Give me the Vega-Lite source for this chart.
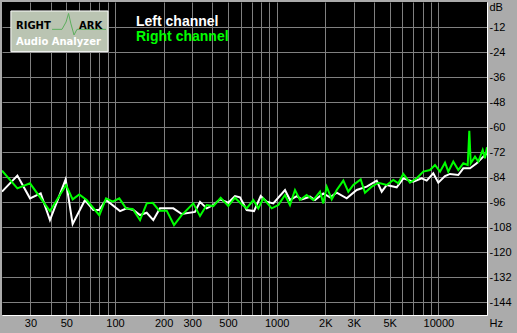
{
  "$schema": "https://vega.github.io/schema/vega-lite/v6.json",
  "width": 485,
  "height": 313,
  "autosize": {"type": "none"},
  "padding": {"left": 2, "top": 2, "right": 30, "bottom": 18},
  "background": "#ABABAB",
  "config": {
    "view": {"fill": "#000000", "stroke": null},
    "font": "Liberation Sans",
    "axis": {"labelOverlap": false, "labelFlush": false}
  },
  "datasets": {
    "spectrum": [
      {"f": 20, "db": -90.9, "ch": "Left channel"},
      {"f": 24.9, "db": -83.2, "ch": "Left channel"},
      {"f": 29.8, "db": -94.1, "ch": "Left channel"},
      {"f": 34.7, "db": -91.7, "ch": "Left channel"},
      {"f": 39.6, "db": -104.5, "ch": "Left channel"},
      {"f": 49.5, "db": -85.0, "ch": "Left channel"},
      {"f": 54.7, "db": -106.4, "ch": "Left channel"},
      {"f": 65.2, "db": -94.9, "ch": "Left channel"},
      {"f": 73.4, "db": -99.7, "ch": "Left channel"},
      {"f": 79.6, "db": -99.7, "ch": "Left channel"},
      {"f": 88.0, "db": -94.9, "ch": "Left channel"},
      {"f": 107.4, "db": -100.2, "ch": "Left channel"},
      {"f": 118.1, "db": -98.9, "ch": "Left channel"},
      {"f": 129.8, "db": -99.7, "ch": "Left channel"},
      {"f": 142.8, "db": -102.1, "ch": "Left channel"},
      {"f": 157.1, "db": -101.0, "ch": "Left channel"},
      {"f": 172.6, "db": -104.5, "ch": "Left channel"},
      {"f": 189.8, "db": -98.9, "ch": "Left channel"},
      {"f": 229.4, "db": -98.9, "ch": "Left channel"},
      {"f": 258.6, "db": -101.6, "ch": "Left channel"},
      {"f": 312.4, "db": -100.6, "ch": "Left channel"},
      {"f": 335.6, "db": -95.8, "ch": "Left channel"},
      {"f": 369.2, "db": -98.9, "ch": "Left channel"},
      {"f": 405.6, "db": -97.3, "ch": "Left channel"},
      {"f": 446.2, "db": -94.6, "ch": "Left channel"},
      {"f": 502.2, "db": -96.2, "ch": "Left channel"},
      {"f": 552.4, "db": -93.0, "ch": "Left channel"},
      {"f": 593.2, "db": -93.6, "ch": "Left channel"},
      {"f": 652.6, "db": -99.7, "ch": "Left channel"},
      {"f": 724.2, "db": -100.2, "ch": "Left channel"},
      {"f": 796.6, "db": -93.0, "ch": "Left channel"},
      {"f": 867.8, "db": -95.7, "ch": "Left channel"},
      {"f": 953.0, "db": -96.5, "ch": "Left channel"},
      {"f": 1126, "db": -90.1, "ch": "Left channel"},
      {"f": 1209, "db": -94.9, "ch": "Left channel"},
      {"f": 1330, "db": -93.0, "ch": "Left channel"},
      {"f": 1428, "db": -94.6, "ch": "Left channel"},
      {"f": 1608, "db": -93.3, "ch": "Left channel"},
      {"f": 1726, "db": -94.9, "ch": "Left channel"},
      {"f": 1943, "db": -91.7, "ch": "Left channel"},
      {"f": 2138, "db": -93.6, "ch": "Left channel"},
      {"f": 2352, "db": -91.4, "ch": "Left channel"},
      {"f": 2712, "db": -94.1, "ch": "Left channel"},
      {"f": 3126, "db": -90.1, "ch": "Left channel"},
      {"f": 3606, "db": -88.5, "ch": "Left channel"},
      {"f": 4156, "db": -85.6, "ch": "Left channel"},
      {"f": 4464, "db": -90.9, "ch": "Left channel"},
      {"f": 4794, "db": -87.7, "ch": "Left channel"},
      {"f": 5526, "db": -88.8, "ch": "Left channel"},
      {"f": 6070, "db": -84.5, "ch": "Left channel"},
      {"f": 6998, "db": -86.1, "ch": "Left channel"},
      {"f": 7890, "db": -84.5, "ch": "Left channel"},
      {"f": 8472, "db": -85.6, "ch": "Left channel"},
      {"f": 9308, "db": -82.1, "ch": "Left channel"},
      {"f": 9994, "db": -86.6, "ch": "Left channel"},
      {"f": 10996, "db": -83.4, "ch": "Left channel"},
      {"f": 11806, "db": -82.4, "ch": "Left channel"},
      {"f": 13288, "db": -82.9, "ch": "Left channel"},
      {"f": 14270, "db": -79.7, "ch": "Left channel"},
      {"f": 15696, "db": -79.7, "ch": "Left channel"},
      {"f": 17270, "db": -77.3, "ch": "Left channel"},
      {"f": 18974, "db": -74.1, "ch": "Left channel"},
      {"f": 20000, "db": -72.5, "ch": "Left channel"},
      {"f": 20, "db": -80.8, "ch": "Right channel"},
      {"f": 24.9, "db": -89.3, "ch": "Right channel"},
      {"f": 29.8, "db": -86.9, "ch": "Right channel"},
      {"f": 39.6, "db": -100.2, "ch": "Right channel"},
      {"f": 49.8, "db": -87.7, "ch": "Right channel"},
      {"f": 54.7, "db": -94.6, "ch": "Right channel"},
      {"f": 60.1, "db": -92.2, "ch": "Right channel"},
      {"f": 66.8, "db": -94.9, "ch": "Right channel"},
      {"f": 80.0, "db": -102.2, "ch": "Right channel"},
      {"f": 88.0, "db": -94.1, "ch": "Right channel"},
      {"f": 96.8, "db": -95.7, "ch": "Right channel"},
      {"f": 106.3, "db": -94.1, "ch": "Right channel"},
      {"f": 117.0, "db": -98.9, "ch": "Right channel"},
      {"f": 128.7, "db": -99.2, "ch": "Right channel"},
      {"f": 142.8, "db": -104.5, "ch": "Right channel"},
      {"f": 157.1, "db": -96.5, "ch": "Right channel"},
      {"f": 171.1, "db": -96.2, "ch": "Right channel"},
      {"f": 187.9, "db": -100.0, "ch": "Right channel"},
      {"f": 208.8, "db": -100.0, "ch": "Right channel"},
      {"f": 231.8, "db": -106.9, "ch": "Right channel"},
      {"f": 258.6, "db": -102.1, "ch": "Right channel"},
      {"f": 305.0, "db": -96.5, "ch": "Right channel"},
      {"f": 335.6, "db": -102.6, "ch": "Right channel"},
      {"f": 369.2, "db": -97.3, "ch": "Right channel"},
      {"f": 405.6, "db": -97.8, "ch": "Right channel"},
      {"f": 450.6, "db": -93.8, "ch": "Right channel"},
      {"f": 502.2, "db": -97.8, "ch": "Right channel"},
      {"f": 552.4, "db": -93.8, "ch": "Right channel"},
      {"f": 607.6, "db": -96.9, "ch": "Right channel"},
      {"f": 652.6, "db": -98.9, "ch": "Right channel"},
      {"f": 717.0, "db": -94.9, "ch": "Right channel"},
      {"f": 769.8, "db": -98.9, "ch": "Right channel"},
      {"f": 826.6, "db": -94.1, "ch": "Right channel"},
      {"f": 931.6, "db": -98.9, "ch": "Right channel"},
      {"f": 1024, "db": -97.3, "ch": "Right channel"},
      {"f": 1126, "db": -92.5, "ch": "Right channel"},
      {"f": 1209, "db": -97.3, "ch": "Right channel"},
      {"f": 1298, "db": -90.1, "ch": "Right channel"},
      {"f": 1394, "db": -94.9, "ch": "Right channel"},
      {"f": 1533, "db": -92.5, "ch": "Right channel"},
      {"f": 1685, "db": -94.9, "ch": "Right channel"},
      {"f": 1854, "db": -90.9, "ch": "Right channel"},
      {"f": 1943, "db": -96.5, "ch": "Right channel"},
      {"f": 2039, "db": -88.5, "ch": "Right channel"},
      {"f": 2190, "db": -94.6, "ch": "Right channel"},
      {"f": 2352, "db": -90.1, "ch": "Right channel"},
      {"f": 2584, "db": -85.6, "ch": "Right channel"},
      {"f": 2774, "db": -90.9, "ch": "Right channel"},
      {"f": 2978, "db": -87.7, "ch": "Right channel"},
      {"f": 3310, "db": -85.0, "ch": "Right channel"},
      {"f": 3518, "db": -91.4, "ch": "Right channel"},
      {"f": 3872, "db": -88.5, "ch": "Right channel"},
      {"f": 4252, "db": -86.6, "ch": "Right channel"},
      {"f": 4794, "db": -87.7, "ch": "Right channel"},
      {"f": 5266, "db": -85.3, "ch": "Right channel"},
      {"f": 5654, "db": -86.9, "ch": "Right channel"},
      {"f": 6070, "db": -82.4, "ch": "Right channel"},
      {"f": 6678, "db": -86.6, "ch": "Right channel"},
      {"f": 7348, "db": -84.5, "ch": "Right channel"},
      {"f": 8070, "db": -81.3, "ch": "Right channel"},
      {"f": 8880, "db": -80.5, "ch": "Right channel"},
      {"f": 9536, "db": -78.1, "ch": "Right channel"},
      {"f": 10240, "db": -81.3, "ch": "Right channel"},
      {"f": 10996, "db": -77.0, "ch": "Right channel"},
      {"f": 11522, "db": -81.3, "ch": "Right channel"},
      {"f": 12372, "db": -76.5, "ch": "Right channel"},
      {"f": 13288, "db": -80.5, "ch": "Right channel"},
      {"f": 14270, "db": -77.3, "ch": "Right channel"},
      {"f": 15196, "db": -78.1, "ch": "Right channel"},
      {"f": 15546, "db": -61.7, "ch": "Right channel"},
      {"f": 15860, "db": -77.3, "ch": "Right channel"},
      {"f": 16856, "db": -74.1, "ch": "Right channel"},
      {"f": 17668, "db": -76.5, "ch": "Right channel"},
      {"f": 18812, "db": -70.9, "ch": "Right channel"},
      {"f": 19438, "db": -74.9, "ch": "Right channel"},
      {"f": 20000, "db": -69.6, "ch": "Right channel"}
    ],
    "wave": [
      {"f": 40.8, "db": -13.1},
      {"f": 47.0, "db": -13.1},
      {"f": 49.8, "db": -9.6},
      {"f": 51.6, "db": -5.5},
      {"f": 53.4, "db": -10.5},
      {"f": 55.8, "db": -15.8},
      {"f": 58.2, "db": -13.1},
      {"f": 88.0, "db": -13.1}
    ]
  },
  "layer": [
    {
      "data": {"name": "spectrum"},
      "mark": {"type": "line", "strokeWidth": 2, "clip": true},
      "encoding": {
        "x": {
          "field": "f", "type": "quantitative",
          "scale": {"type": "log", "domain": [20, 20000], "nice": false},
          "axis": {
            "values": [30, 40, 50, 60, 70, 80, 90, 100, 200, 300, 400, 500, 600, 700, 800, 900, 1000, 2000, 3000, 4000, 5000, 6000, 7000, 8000, 9000, 10000],
            "tickCount": 40,
            "grid": true, "gridColor": "#808080", "gridWidth": 1,
            "ticks": false, "domain": true, "domainColor": "#ffffff", "domainWidth": 1,
            "labelExpr": "datum.value == 2000 ? '2K' : datum.value == 3000 ? '3K' : datum.value == 5000 ? '5K' : indexof([30,50,100,200,300,500,1000,10000], datum.value) >= 0 ? '' + datum.value : ''",
            "labelFont": "Liberation Sans", "labelFontSize": 11, "labelColor": "#000000",
            "labelPadding": 2, "labelOverlap": false, "labelFlush": false,
            "title": "Hz", "titleX": 487, "titleY": 11, "titleAlign": "left", "titleBaseline": "alphabetic",
            "titleFont": "Liberation Sans", "titleFontSize": 11, "titleFontWeight": "normal", "titleColor": "#000000"
          }
        },
        "y": {
          "field": "db", "type": "quantitative",
          "scale": {"domain": [-150, 0], "nice": false, "zero": false},
          "axis": {
            "orient": "right",
            "values": [-144, -132, -120, -108, -96, -84, -72, -60, -48, -36, -24, -12],
            "tickCount": 40,
            "grid": true, "gridColor": "#808080", "gridWidth": 1,
            "ticks": false, "domain": true, "domainColor": "#ffffff", "domainWidth": 1,
            "labelExpr": "'' + datum.value",
            "labelFont": "Liberation Sans", "labelFontSize": 11, "labelColor": "#000000",
            "labelPadding": 2, "labelAlign": "left", "labelOverlap": false, "labelFlush": false,
            "title": "dB", "titleAngle": 0, "titleX": 2, "titleY": 8, "titleAlign": "left", "titleBaseline": "alphabetic",
            "titleFont": "Liberation Sans", "titleFontSize": 11, "titleFontWeight": "normal", "titleColor": "#000000"
          }
        },
        "color": {
          "field": "ch", "type": "nominal",
          "scale": {"domain": ["Left channel", "Right channel"], "range": ["#ffffff", "#00ff00"]},
          "legend": {
            "orient": "none", "legendX": 120, "legendY": 12.5, "title": null, "direction": "vertical",
            "symbolType": "circle", "symbolSize": 0, "symbolOpacity": 0, "symbolStrokeWidth": 0,
            "labelOffset": 0, "labelFont": "Liberation Sans", "labelFontSize": 14, "labelFontWeight": "bold",
            "rowPadding": 1, "padding": 0, "labelLimit": 300,
            "encode": {"labels": {"update": {"fill": {"scale": "color", "field": "value"}}}}
          }
        }
      }
    },
    {
      "data": {"values": [{}]},
      "mark": {"type": "rect", "fill": "#BAC4B2", "stroke": "#ffffff", "strokeWidth": 1},
      "encoding": {"x": {"datum": 22.7}, "x2": {"datum": 90.5}, "y": {"datum": -4.3}, "y2": {"datum": -23.8}}
    },
    {
      "data": {"name": "wave"},
      "mark": {"type": "line", "color": "#5DAE5D", "strokeWidth": 1},
      "encoding": {
        "x": {"field": "f", "type": "quantitative"},
        "y": {"field": "db", "type": "quantitative"}
      }
    },
    {
      "data": {"values": [{}]},
      "mark": {"type": "text", "text": "RIGHT", "font": "DejaVu Sans", "fontWeight": "bold", "fontSize": 10, "fill": "#000000", "align": "left", "baseline": "alphabetic"},
      "encoding": {"x": {"datum": 24.4}, "y": {"datum": -12.9}}
    },
    {
      "data": {"values": [{}]},
      "mark": {"type": "text", "text": "ARK", "font": "DejaVu Sans", "fontWeight": "bold", "fontSize": 10, "fill": "#000000", "align": "left", "baseline": "alphabetic"},
      "encoding": {"x": {"datum": 59.9}, "y": {"datum": -12.9}}
    },
    {
      "data": {"values": [{}]},
      "mark": {"type": "text", "text": "Audio Analyzer", "font": "DejaVu Sans", "fontWeight": "bold", "fontSize": 10, "fill": "#ffffff", "align": "left", "baseline": "alphabetic"},
      "encoding": {"x": {"datum": 24.4}, "y": {"datum": -20.6}}
    }
  ]
}
